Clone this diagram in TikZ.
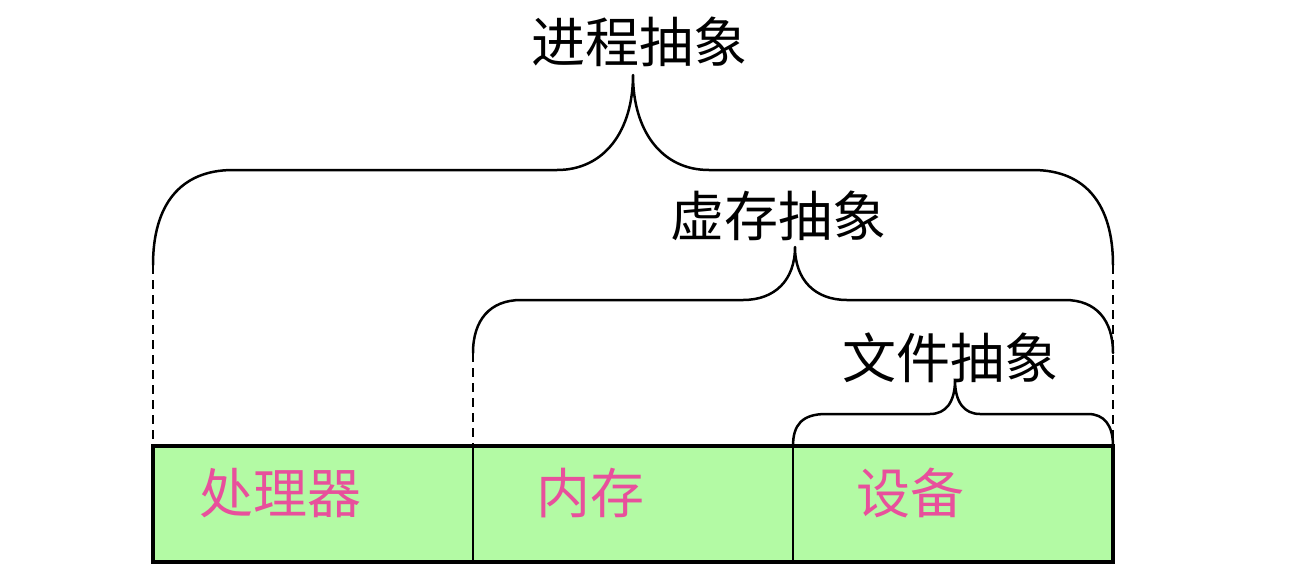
\documentclass[tikz,border=0pt]{standalone}
\usepackage{fontspec}
\setmainfont{Noto Sans CJK SC}
\definecolor{cellgreen}{RGB}{179,250,164}
\definecolor{labelpink}{RGB}{232,80,156}
\begin{document}
\begin{tikzpicture}[x=1pt,y=-1pt,
  lbl/.style={font=\fontsize{54}{60}\selectfont, inner sep=0pt},
  celltext/.style={font=\fontsize{54}{60}\selectfont, inner sep=0pt, text=labelpink},
  cell/.style={draw, line width=2.4pt, fill=cellgreen, minimum width=320pt, minimum height=116pt, inner sep=0pt, outer sep=0pt},
  brace/.style={line width=2.5pt, line join=round, line cap=round},
  side/.style={line width=2.5pt, dash pattern=on 9pt off 6pt}]
\useasboundingbox (0,0) rectangle (1294,582);
% cells
\node[cell] (cpu) at (313,504) {};
\node[cell] (mem) at (633,504) {};
\node[cell] (dev) at (953,504) {};
\draw[line width=3.2pt] (cpu.north west) rectangle (dev.south east);
\node[celltext] (cpuL) at (280,493) {处理器};
\node[celltext] (memL) at (590,493) {内存};
\node[celltext] (devL) at (910,493) {设备};
% process brace
\coordinate (pL) at (153,265);
\coordinate (pR) at (1113,265);
\draw[brace] (pL) .. controls (153,205) and (180,170) .. (233,170) -- (557,170)
  .. controls (605,170) and (633,130) .. (633,75)
  .. controls (633,130) and (661,170) .. (709,170) -- (1033,170)
  .. controls (1086,170) and (1113,205) .. (pR);
\draw[side] (pL) -- (cpu.north west);
\draw[side] (pR) -- (dev.north east);
% virtual memory brace
\coordinate (vL) at (473,353);
\coordinate (vR) at (1113,353);
\draw[brace] (vL) .. controls (473,320) and (490,300) .. (521,300) -- (743,300)
  .. controls (775,300) and (795,280) .. (795,247)
  .. controls (795,280) and (815,300) .. (847,300) -- (1065,300)
  .. controls (1096,300) and (1113,320) .. (vR);
\draw[side] (vL) -- (mem.north west);
% file brace
\draw[brace] (dev.north west) .. controls (793,425) and (802,414) .. (826,414) -- (930,414)
  .. controls (946,414) and (955,402) .. (955,380)
  .. controls (955,402) and (964,414) .. (980,414) -- (1088,414)
  .. controls (1104,414) and (1113,425) .. (dev.north east);
% labels
\node[lbl] (proc) at (639,42) {进程抽象};
\node[lbl] (vm) at (778,216) {虚存抽象};
\node[lbl] (file) at (950,358) {文件抽象};
\end{tikzpicture}
\end{document}
